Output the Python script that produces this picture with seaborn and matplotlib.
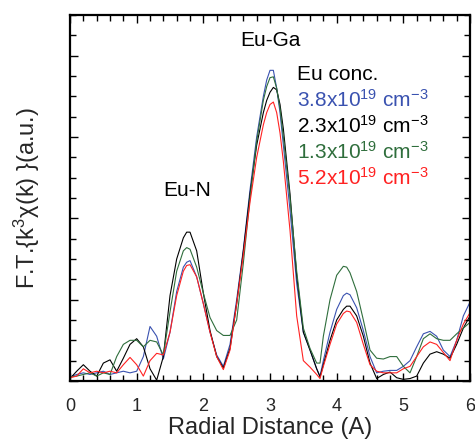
import matplotlib
matplotlib.use("Agg")
import matplotlib.pyplot as plt
from matplotlib.ticker import MultipleLocator
import seaborn as sns
import pandas as pd

# ---- data ----
radial = [0.0, 0.1, 0.2, 0.3, 0.4, 0.5, 0.6, 0.7, 0.8, 0.9, 1.0, 1.1, 1.2, 1.3, 1.4, 1.5, 1.6, 1.7,
          1.75, 1.8, 1.9, 2.0, 2.1, 2.2, 2.3, 2.4, 2.5, 2.6, 2.7, 2.8, 2.9, 2.95, 3.0, 3.05, 3.1,
          3.15, 3.2, 3.3, 3.4, 3.5, 3.6, 3.7, 3.75, 3.8, 3.9, 4.0, 4.1, 4.15, 4.2, 4.3, 4.4, 4.5,
          4.6, 4.7, 4.8, 4.9, 5.0, 5.1, 5.2, 5.3, 5.4, 5.5, 5.6, 5.7, 5.8, 5.9, 6.0]

ft_38 = [0.05, 0.08, 0.10, 0.08, 0.10, 0.12, 0.08, 0.10, 0.12, 0.10, 0.12, 0.30, 0.67, 0.55, 0.27, 0.60, 1.10, 1.40,
         1.46, 1.48, 1.28, 0.95, 0.60, 0.32, 0.18, 0.45, 1.00, 1.62, 2.35, 3.00, 3.50, 3.70, 3.82, 3.82, 3.60,
         3.30, 2.90, 2.10, 1.20, 0.60, 0.38, 0.15, 0.06, 0.25, 0.60, 0.88, 1.05, 1.08, 1.06, 0.90, 0.62, 0.30,
         0.10, 0.12, 0.13, 0.13, 0.18, 0.25, 0.42, 0.58, 0.61, 0.55, 0.38, 0.30, 0.50, 0.80, 0.97]

ft_23 = [0.03, 0.12, 0.20, 0.12, 0.06, 0.22, 0.26, 0.12, 0.28, 0.45, 0.52, 0.42, 0.15, 0.01, 0.30, 1.05, 1.50, 1.76,
         1.83, 1.83, 1.60, 1.08, 0.62, 0.30, 0.16, 0.40, 0.95, 1.60, 2.30, 2.90, 3.30, 3.45, 3.55, 3.61, 3.58,
         3.40, 3.10, 2.30, 1.30, 0.60, 0.38, 0.15, 0.05, 0.20, 0.50, 0.75, 0.88, 0.92, 0.92, 0.80, 0.55, 0.22,
         0.03, 0.08, 0.11, 0.04, 0.02, 0.03, 0.06, 0.22, 0.33, 0.36, 0.33, 0.28, 0.45, 0.65, 0.80]

ft_13 = [0.05, 0.06, 0.08, 0.10, 0.06, 0.10, 0.08, 0.30, 0.45, 0.50, 0.50, 0.42, 0.50, 0.48, 0.32, 0.85, 1.35, 1.60,
         1.64, 1.62, 1.40, 1.08, 0.78, 0.62, 0.56, 0.56, 0.75, 1.45, 2.25, 2.95, 3.45, 3.62, 3.73, 3.74, 3.60,
         3.35, 3.00, 2.25, 1.35, 0.65, 0.40, 0.22, 0.22, 0.55, 1.00, 1.30, 1.41, 1.40, 1.33, 1.10, 0.75, 0.38,
         0.28, 0.27, 0.30, 0.30, 0.18, 0.10, 0.30, 0.52, 0.58, 0.52, 0.50, 0.50, 0.58, 0.65, 0.72]

ft_52 = [0.04, 0.06, 0.15, 0.10, 0.12, 0.10, 0.12, 0.10, 0.20, 0.29, 0.20, 0.06, 0.25, 0.34, 0.32, 0.60, 1.05, 1.35,
         1.42, 1.43, 1.28, 0.95, 0.60, 0.30, 0.14, 0.38, 0.95, 1.55, 2.20, 2.75, 3.15, 3.30, 3.40, 3.43, 3.30,
         3.05, 2.70, 1.85, 0.80, 0.25, 0.17, 0.08, 0.03, 0.18, 0.45, 0.70, 0.83, 0.86, 0.85, 0.72, 0.45, 0.20,
         0.12, 0.10, 0.10, 0.10, 0.15, 0.18, 0.30, 0.42, 0.48, 0.45, 0.35, 0.25, 0.50, 0.70, 0.84]

series_labels = ["3.8x10$^{19}$ cm$^{-3}$", "2.3x10$^{19}$ cm$^{-3}$",
                 "1.3x10$^{19}$ cm$^{-3}$", "5.2x10$^{19}$ cm$^{-3}$"]
series_keys = ["3.8", "2.3", "1.3", "5.2"]
series_colors = ["#3a52b0", "#000000", "#2f6e3c", "#ff2222"]

df = pd.concat([
    pd.DataFrame({"r": radial, "ft": vals, "conc": key})
    for key, vals in zip(series_keys, [ft_38, ft_23, ft_13, ft_52])
], ignore_index=True)

# ---- style ----
sns.set_theme(style="ticks")
plt.rcParams["font.family"] = ["Liberation Sans", "DejaVu Sans"]
plt.rcParams["mathtext.fontset"] = "custom"
plt.rcParams["mathtext.rm"] = "Liberation Sans"
plt.rcParams["mathtext.it"] = "Liberation Sans:italic"
plt.rcParams["mathtext.bf"] = "Liberation Sans:bold"

fig = plt.figure(figsize=(4.75, 4.47), dpi=100)
ax = fig.add_axes([0.1474, 0.1477, 0.8421, 0.8187])

sns.lineplot(data=df, x="r", y="ft", hue="conc", hue_order=series_keys,
             palette=dict(zip(series_keys, series_colors)), sort=False,
             linewidth=0.8, legend=False, ax=ax)

ax.set_xlim(0, 6)
ax.set_ylim(0, 4.5)
ax.xaxis.set_major_locator(MultipleLocator(1))
ax.xaxis.set_minor_locator(MultipleLocator(0.2))
ax.yaxis.set_major_locator(MultipleLocator(1))
ax.yaxis.set_minor_locator(MultipleLocator(0.25))
ax.tick_params(which="both", direction="in", top=True, right=True, width=1.0, color="black")
ax.tick_params(which="major", length=6, labelsize=13, pad=12)
ax.tick_params(which="minor", length=4)
ax.set_yticklabels([])
for s in ax.spines.values():
    s.set_linewidth(1.6)
    s.set_color("black")

ax.set_xlabel("Radial Distance (A)", fontsize=17, labelpad=2)
ax.set_ylabel("F.T.{k$^{3}$χ(k) }(a.u.)", fontsize=17, labelpad=8)

ax.text(3.0, 4.19, "Eu-Ga", fontsize=15, ha="center", va="center", color="black")
ax.text(1.76, 2.34, "Eu-N", fontsize=15, ha="center", va="center", color="black")

ax.text(3.4, 3.70, "Eu conc.", fontsize=15, ha="left", va="baseline", color="black")
ybase = 3.37
for lab, col in zip(series_labels, series_colors):
    ax.text(3.4, ybase, lab, fontsize=15, ha="left", va="baseline", color=col)
    ybase -= 0.32

fig.savefig("out.png", dpi=100)
